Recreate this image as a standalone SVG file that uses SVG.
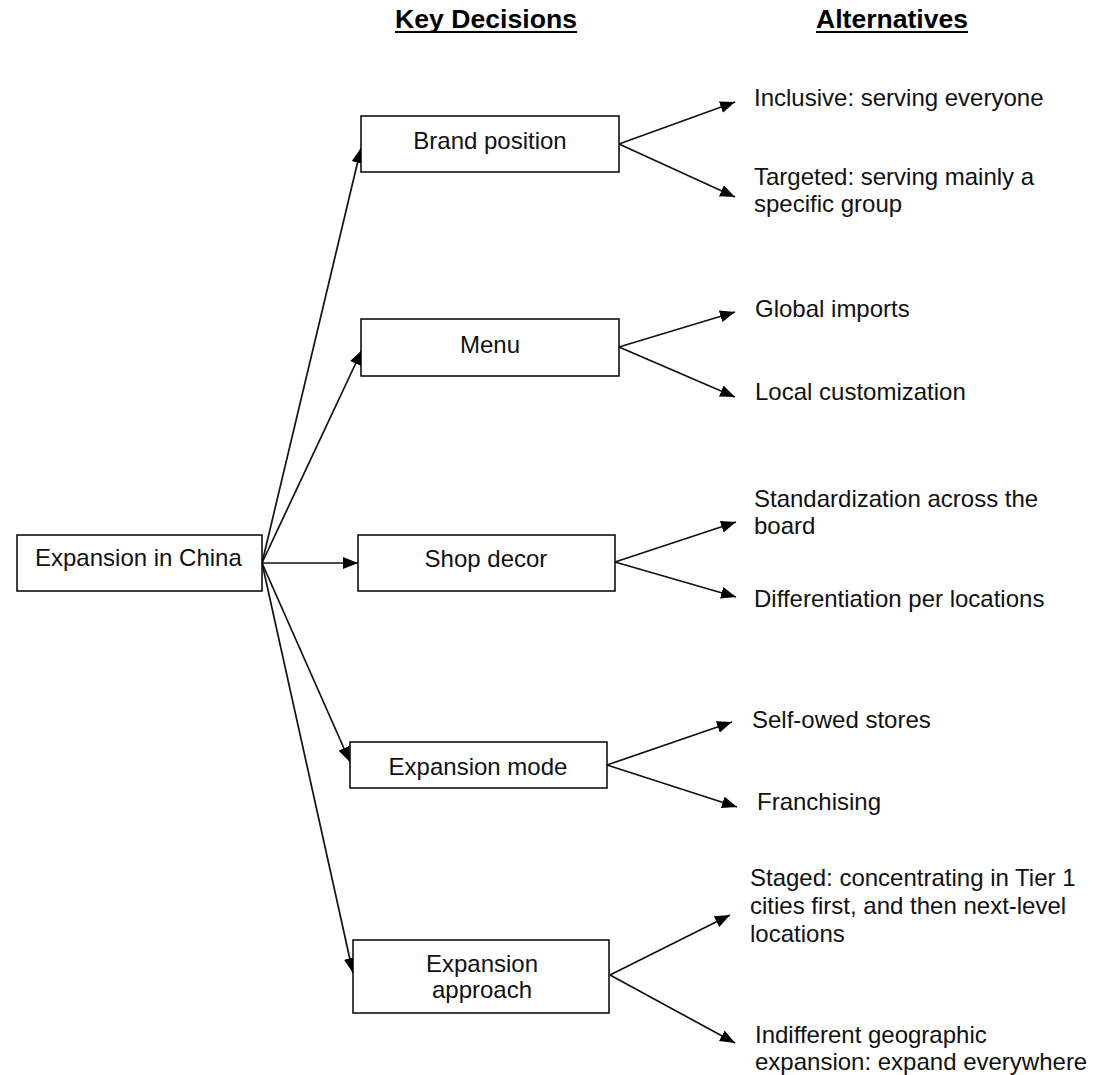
<svg xmlns="http://www.w3.org/2000/svg" width="1099" height="1075" viewBox="0 0 1099 1075">
<style>
.box{fill:#fff;stroke:#000;stroke-width:1.5}
.t{font-family:"Liberation Sans",Arial,sans-serif;font-size:24px;fill:#111}
.c{text-anchor:middle}
.h{font-family:"Liberation Sans",Arial,sans-serif;font-size:25px;font-weight:bold;fill:#000}
.ln{stroke:#111;stroke-width:1.7;fill:none;marker-end:url(#ah)}
</style>
<defs>
<marker id="ah" markerUnits="userSpaceOnUse" markerWidth="15" markerHeight="12" refX="15" refY="6" orient="auto">
<path d="M0,0 L15,6 L0,12 z" fill="#000"/>
</marker>
</defs>
<rect width="1099" height="1075" fill="#fff"/>
<g id="headers">
<text class="h" x="395" y="28" textLength="182" lengthAdjust="spacingAndGlyphs">Key Decisions</text>
<line x1="395" y1="32" x2="577" y2="32" stroke="#000" stroke-width="2"/>
<text class="h" x="816" y="28" textLength="152" lengthAdjust="spacingAndGlyphs">Alternatives</text>
<line x1="816" y1="32" x2="968" y2="32" stroke="#000" stroke-width="2"/>
</g>
<g id="connectors">
<line class="ln" x1="262" y1="563" x2="361" y2="148"/>
<line class="ln" x1="262" y1="563" x2="362" y2="350"/>
<line class="ln" x1="262" y1="563" x2="358" y2="563"/>
<line class="ln" x1="262" y1="563" x2="350" y2="762"/>
<line class="ln" x1="262" y1="563" x2="353" y2="973"/>
<line class="ln" x1="619" y1="144" x2="735" y2="102"/>
<line class="ln" x1="619" y1="144" x2="735" y2="197"/>
<line class="ln" x1="619" y1="347" x2="735" y2="312"/>
<line class="ln" x1="619" y1="347" x2="735" y2="397"/>
<line class="ln" x1="615" y1="562" x2="736" y2="522"/>
<line class="ln" x1="615" y1="562" x2="736" y2="597"/>
<line class="ln" x1="607" y1="765" x2="732" y2="722"/>
<line class="ln" x1="607" y1="765" x2="737" y2="807"/>
<line class="ln" x1="610" y1="975" x2="730" y2="915"/>
<line class="ln" x1="610" y1="975" x2="735" y2="1043"/>
</g>
<g id="root">
<rect class="box" x="17" y="535" width="245" height="56"/>
<text class="t" x="35" y="566">Expansion in China</text>
</g>
<g id="brand">
<rect class="box" x="361" y="116" width="258" height="56"/>
<text class="t c" x="490" y="149">Brand position</text>
</g>
<g id="menu">
<rect class="box" x="361" y="319" width="258" height="57"/>
<text class="t c" x="490" y="353">Menu</text>
</g>
<g id="decor">
<rect class="box" x="358" y="535" width="257" height="56"/>
<text class="t c" x="486" y="567">Shop decor</text>
</g>
<g id="mode">
<rect class="box" x="350" y="742" width="257" height="46"/>
<text class="t c" x="478" y="775">Expansion mode</text>
</g>
<g id="approach">
<rect class="box" x="353" y="940" width="256" height="73"/>
<text class="t c" x="482" y="972">Expansion</text>
<text class="t c" x="482" y="998">approach</text>
</g>
<g id="alternatives">
<text class="t" x="754" y="106">Inclusive: serving everyone</text>
<text class="t" x="754" y="185">Targeted: serving mainly a</text>
<text class="t" x="754" y="212">specific group</text>
<text class="t" x="755" y="317">Global imports</text>
<text class="t" x="755" y="400">Local customization</text>
<text class="t" x="754" y="507">Standardization across the</text>
<text class="t" x="754" y="534">board</text>
<text class="t" x="754" y="607">Differentiation per locations</text>
<text class="t" x="752" y="728">Self-owed stores</text>
<text class="t" x="757" y="810">Franchising</text>
<text class="t" x="750" y="886">Staged: concentrating in Tier 1</text>
<text class="t" x="750" y="914">cities first, and then next-level</text>
<text class="t" x="750" y="942">locations</text>
<text class="t" x="755" y="1043">Indifferent geographic</text>
<text class="t" x="755" y="1070">expansion: expand everywhere</text>
</g>
</svg>
